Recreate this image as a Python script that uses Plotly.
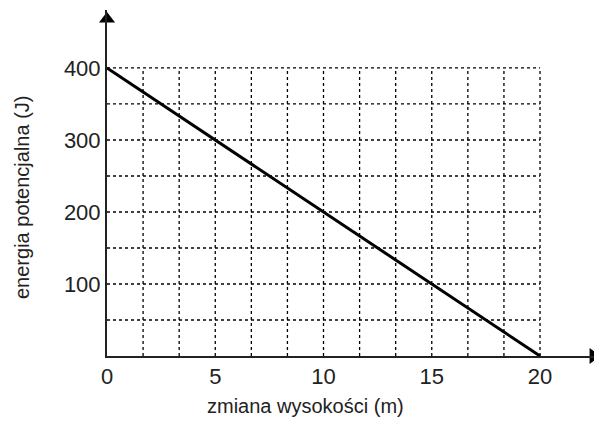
import plotly.graph_objects as go

# data
height_change = [0, 20]
potential_energy = [400, 0]
x_ticks = [0, 5, 10, 15, 20]
y_ticks = [100, 200, 300, 400]
x_grid = [0, 5/3, 10/3, 5, 20/3, 25/3, 10, 35/3, 40/3, 15, 50/3, 55/3, 20]
y_grid = [0, 50, 100, 150, 200, 250, 300, 350, 400]

fig = go.Figure()

# dotted grid limited to data area
for gx in x_grid[1:]:
    fig.add_shape(type="line", xref="x", yref="y", x0=gx, x1=gx, y0=0, y1=400,
                  line=dict(color="black", width=1.3, dash="dot"), layer="below")
for gy in y_grid[1:]:
    fig.add_shape(type="line", xref="x", yref="y", x0=0, x1=20, y0=gy, y1=gy,
                  line=dict(color="black", width=1.3, dash="dot"), layer="below")

fig.add_trace(go.Scatter(x=height_change, y=potential_energy, mode="lines",
                         line=dict(color="black", width=3), showlegend=False,
                         cliponaxis=False))

# arrowheads
fig.add_trace(go.Scatter(x=[0], y=[468], mode="markers",
                         marker=dict(symbol="triangle-up", size=14, color="black"),
                         showlegend=False, cliponaxis=False))
fig.add_trace(go.Scatter(x=[22.45], y=[0], mode="markers",
                         marker=dict(symbol="triangle-right", size=14, color="black"),
                         showlegend=False, cliponaxis=False))

# page body has an 8px margin, so the figure is sized to fit the window after it
fig.update_layout(
    width=594, height=417,
    margin=dict(l=99, r=2, t=2, b=69),
    paper_bgcolor="white", plot_bgcolor="white",
    font=dict(family="Liberation Sans, Arial, sans-serif", size=22, color="#222"),
    xaxis=dict(range=[0, 22.77], tickvals=x_ticks, ticktext=[str(v) for v in x_ticks],
               showgrid=False, zeroline=False, showline=True, linecolor="#222",
               linewidth=2, ticks="", ticklen=0, fixedrange=True),
    yaxis=dict(range=[0, 480.5], tickvals=y_ticks, ticktext=[str(v) for v in y_ticks],
               showgrid=False, zeroline=False, showline=True, linecolor="#222",
               linewidth=2, ticks="", ticklen=0, fixedrange=True),
    annotations=[
        dict(text="zmiana wysokości (m)", xref="paper", yref="paper",
             x=(305 - 107) / 493, y=0, yshift=-50, xanchor="center", yanchor="middle",
             showarrow=False, font=dict(size=20)),
        dict(text="energia potencjalna (J)", xref="paper", yref="paper",
             x=0, xshift=-85, y=(356 - 198) / 346, xanchor="center", yanchor="middle",
             textangle=-90, showarrow=False, font=dict(size=20)),
    ],
)

fig.write_html("out.html")
